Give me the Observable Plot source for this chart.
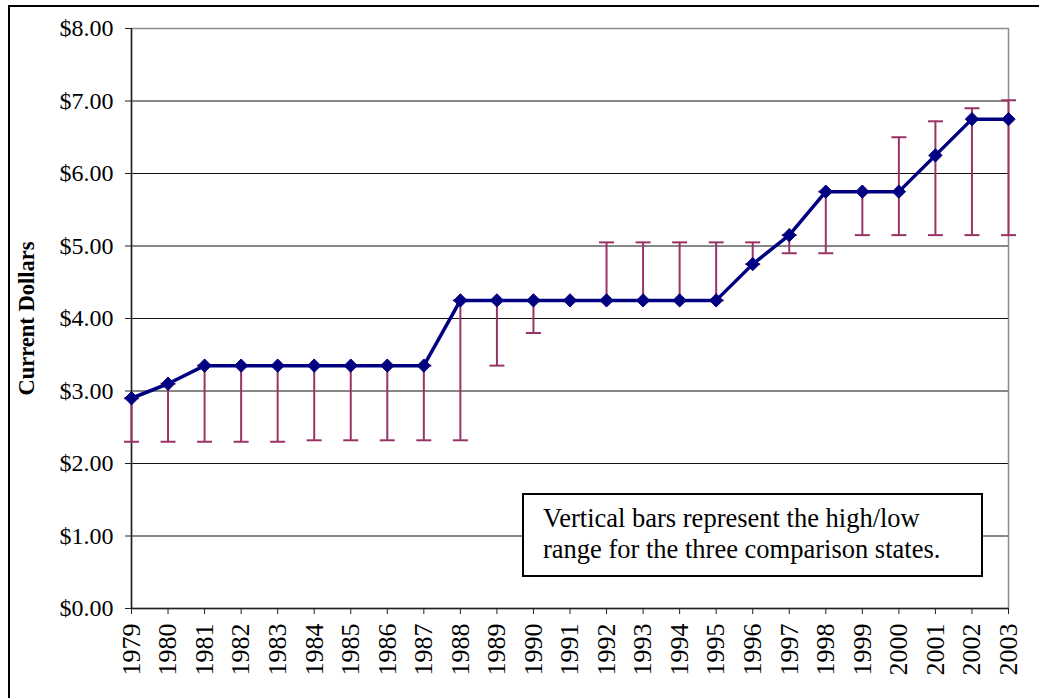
<!DOCTYPE html>
<html>
<head>
<meta charset="utf-8">
<script src="https://cdn.jsdelivr.net/npm/d3@7"></script>
<script src="https://cdn.jsdelivr.net/npm/@observablehq/plot@0.6"></script>
<style>
  html, body { margin: 0; padding: 0; background: #fff; }
  #wrap { position: relative; width: 1039px; height: 698px; overflow: hidden; font-family: "Liberation Serif", "Times New Roman", serif; }
  #wrap svg { position: absolute; left: 0; top: 0; }
  #outer { position: absolute; left: 8px; top: 5px; width: 2000px; height: 2000px; border-left: 2px solid #000; border-top: 2px solid #000; }
  #note { position: absolute; left: 522px; top: 493px; width: 461px; height: 84px; box-sizing: border-box;
          border: 2px solid #000; background: #fff; font-size: 26.5px; line-height: 31px; padding: 8px 0 0 19px; color: #000; white-space: nowrap; }
</style>
</head>
<body>
<div id="wrap">
  <div id="outer"></div>
</div>
<script>
// ---- data ----
const years = [1979,1980,1981,1982,1983,1984,1985,1986,1987,1988,1989,1990,1991,1992,1993,1994,1995,1996,1997,1998,1999,2000,2001,2002,2003];
const wage  = [2.90,3.10,3.35,3.35,3.35,3.35,3.35,3.35,3.35,4.25,4.25,4.25,4.25,4.25,4.25,4.25,4.25,4.75,5.15,5.75,5.75,5.75,6.25,6.75,6.75];
const high  = [2.90,3.10,3.35,3.35,3.35,3.35,3.35,3.35,3.35,4.25,4.25,4.25,4.25,5.05,5.05,5.05,5.05,5.05,5.15,5.75,5.75,6.50,6.72,6.90,7.01];
const low   = [2.30,2.30,2.30,2.30,2.30,2.32,2.32,2.32,2.32,2.32,3.35,3.80,4.25,4.25,4.25,4.25,4.25,4.75,4.90,4.90,5.15,5.15,5.15,5.15,5.15];
const yTicks = [0,1,2,3,4,5,6,7,8];
const gridTicks = [1,2,3,4,5,6,7];
const yTitle = "Current Dollars";
const noteLines = ["Vertical bars represent the high/low", "range for the three comparison states."];

const rows = years.map((y, i) => ({year: y, wage: wage[i], high: high[i], low: low[i]}));

const capSymbol = {
  draw(ctx) { ctx.moveTo(-7.5, 0); ctx.lineTo(7.5, 0); }
};

const barColor = "#993366";
const lineColor = "#000080";

const chart = Plot.plot({
  width: 1039,
  height: 698,
  marginLeft: 131,
  marginRight: 31,
  marginTop: 28,
  marginBottom: 90,
  style: {fontFamily: "'Liberation Serif', 'Times New Roman', serif", background: "transparent", color: "#000"},
  x: {type: "linear", domain: [years[0], years[years.length - 1]], axis: null},
  y: {domain: [0, 8], axis: null},
  marks: [
    Plot.gridY(gridTicks, {stroke: "#111", strokeOpacity: 1, strokeWidth: 1}),
    Plot.frame({stroke: "#8c8c8c", strokeWidth: 1.5}),
    Plot.ruleY([0], {stroke: "#222", strokeWidth: 1.5}),
    Plot.ruleX([years[0]], {stroke: "#222", strokeWidth: 1.5}),
    Plot.axisY(yTicks, {label: null, tickSize: 6, tickPadding: 12, fontSize: 24, tickFormat: d => "$" + d.toFixed(2), stroke: "#222"}),
    Plot.axisX(years, {label: null, tickSize: 6, tickPadding: 9, fontSize: 26, tickRotate: -90, tickFormat: d => String(d), stroke: "#222"}),
    Plot.ruleX(rows, {x: "year", y1: "low", y2: "high", stroke: barColor, strokeWidth: 2}),
    Plot.dot(rows, {x: "year", y: "low", symbol: capSymbol, stroke: barColor, strokeWidth: 2, fill: "none"}),
    Plot.dot(rows, {x: "year", y: "high", symbol: capSymbol, stroke: barColor, strokeWidth: 2, fill: "none"}),
    Plot.line(rows, {x: "year", y: "wage", stroke: lineColor, strokeWidth: 3.5}),
    Plot.dot(rows, {x: "year", y: "wage", symbol: "diamond2", r: 6, fill: lineColor, stroke: lineColor, strokeWidth: 1}),
    Plot.text([yTitle], {frameAnchor: "left", textAnchor: "middle", dx: -105, rotate: -90, fontSize: 22.5, fontWeight: "bold", fill: "#000"})
  ]
});

const wrap = document.getElementById("wrap");
wrap.appendChild(chart);
const note = document.createElement("div");
note.id = "note";
note.innerHTML = noteLines.join("<br>");
wrap.appendChild(note);
</script>
</body>
</html>
